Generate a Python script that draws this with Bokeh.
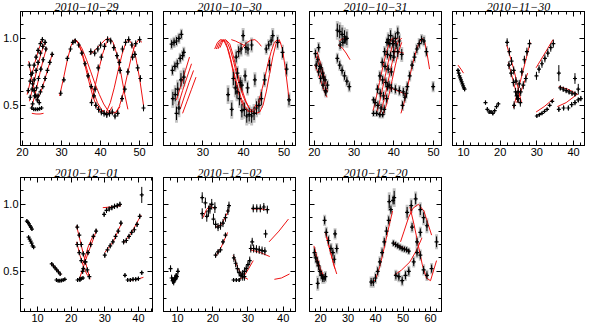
from bokeh.plotting import figure
from bokeh.layouts import row, column
from bokeh.models import Range1d, LinearAxis, FixedTicker, PrintfTickFormatter
from bokeh.embed import file_html
from bokeh.resources import INLINE

TITLES = ["2010\u221210\u221229", "2010\u221210\u221230", "2010\u221210\u221231", "2010\u221211\u221230",
          "2010\u221212\u221201", "2010\u221212\u221202", "2010\u221212\u221220"]
X_RANGES = [(19.5, 53.3), (20.3, 52.8), (18.8, 52.0), (7.0, 43.0), (4.9, 44.2), (6.0, 43.5), (16.0, 64.0)]
X_TICKS = [[20, 30, 40, 50], [30, 40, 50], [20, 30, 40, 50], [10, 20, 30, 40],
           [10, 20, 30, 40], [10, 20, 30, 40], [20, 30, 40, 50, 60]]
Y_TICKS = [0.5, 1.0]

# ---------------- 2010-10-29 ----------------
p1_x = [[21.5, 22.0, 22.5, 23.0, 23.5, 24.0, 24.6, 25.1],
        [22.0, 22.5, 23.0, 23.5, 24.0, 24.6, 25.2, 25.8],
        [22.6, 23.1, 23.6, 24.1, 24.7, 25.3, 26.0],
        [24.0, 24.6, 25.2, 25.8, 26.4, 27.0, 27.6],
        [21.8, 22.2, 22.6, 23.0, 23.4, 23.8, 24.3],
        [22.4, 22.9, 23.4, 23.9, 24.4, 24.9],
        [29.8, 30.6, 31.5, 32.3, 32.9, 33.5, 34.4, 35.2, 36.0, 36.8, 37.6, 38.3],
        [37.7, 38.6, 39.4, 40.2, 41.0, 41.8, 42.6, 43.4, 44.2, 45.0],
        [38.8, 39.5, 40.2, 40.9, 41.6, 42.3, 43.0, 43.7, 44.4],
        [44.8, 45.6, 46.4, 47.2, 48.0, 48.8],
        [45.5, 46.2, 47.0, 48.2, 49.0, 50.0],
        [49.5, 50.2, 51.0],
        [37.5, 38.5, 39.3, 40.0]]
p1_y = [[0.61, 0.68, 0.74, 0.80, 0.86, 0.91, 0.96, 0.99],
        [0.56, 0.62, 0.69, 0.76, 0.82, 0.89, 0.94, 0.97],
        [0.51, 0.57, 0.63, 0.70, 0.77, 0.84, 0.92],
        [0.57, 0.60, 0.64, 0.70, 0.76, 0.82, 0.88],
        [0.80, 0.73, 0.66, 0.61, 0.57, 0.54, 0.52],
        [0.48, 0.47, 0.47, 0.47, 0.475, 0.48],
        [0.59, 0.69, 0.85, 0.92, 0.97, 0.98, 0.95, 0.89, 0.81, 0.72, 0.64, 0.57],
        [0.52, 0.62, 0.78, 0.86, 0.94, 0.99, 0.98, 0.93, 0.87, 0.76],
        [0.50, 0.47, 0.45, 0.44, 0.43, 0.44, 0.45, 0.42, 0.44],
        [0.82, 0.92, 0.97, 0.99, 0.95, 0.88],
        [0.55, 0.62, 0.75, 0.86, 0.96, 0.99],
        [0.78, 0.70, 0.48],
        [0.90, 0.89, 0.92, 0.95]]
p1_e = [0.02, 0.02, 0.02, 0.02, 0.02, 0.01, 0.02, 0.025, 0.025, 0.025, 0.025, 0.025, 0.025]
p1_fit_x = [[21.2, 22.2, 23.2, 24.2, 25.2], [21.8, 22.8, 23.8, 24.8, 25.8], [22.4, 23.4, 24.4, 25.4, 26.2],
            [23.6, 24.6, 25.6, 26.6, 27.7], [22.4, 23.5, 24.5, 25.4], [21.6, 22.4, 23.2, 24.0, 24.6],
            [29.5, 30.5, 31.5, 32.5, 33.3, 34.0, 35.0, 36.0, 37.0, 38.0, 39.0, 40.0, 41.0],
            [33.3, 34.2, 35.2, 36.2, 37.2, 38.2, 39.2, 40.2, 41.2, 42.2, 43.0],
            [33.3, 34.3, 35.3, 36.4, 37.5, 38.6, 39.7, 40.8, 41.9, 43.0, 44.0, 45.0],
            [37.5, 38.5, 39.5, 40.5, 41.5, 42.3, 43.2, 44.2, 45.2, 46.2, 47.0],
            [41.5, 42.5, 43.5, 44.5, 45.5, 46.5, 47.2, 48.0, 49.0, 50.0, 51.0],
            [43.8, 44.8, 45.8, 46.8, 47.8, 48.8, 49.8, 50.6],
            [37.2, 38.2, 39.2, 40.2, 41.2, 42.0]]
p1_fit_y = [[0.58, 0.70, 0.82, 0.92, 0.995], [0.53, 0.65, 0.78, 0.89, 0.97], [0.49, 0.60, 0.73, 0.85, 0.93],
            [0.54, 0.59, 0.68, 0.78, 0.89], [0.44, 0.435, 0.435, 0.44], [0.83, 0.70, 0.60, 0.54, 0.52],
            [0.57, 0.70, 0.84, 0.95, 0.99, 0.98, 0.91, 0.80, 0.68, 0.57, 0.49, 0.45, 0.46],
            [0.99, 0.97, 0.90, 0.80, 0.70, 0.60, 0.52, 0.47, 0.44, 0.45, 0.49],
            [0.99, 0.97, 0.92, 0.84, 0.75, 0.66, 0.58, 0.51, 0.46, 0.44, 0.45, 0.49],
            [0.52, 0.63, 0.76, 0.88, 0.97, 1.0, 0.97, 0.88, 0.74, 0.58, 0.47],
            [0.45, 0.52, 0.63, 0.76, 0.88, 0.97, 0.99, 0.96, 0.86, 0.70, 0.50],
            [0.44, 0.49, 0.59, 0.72, 0.85, 0.95, 0.99, 0.97],
            [0.88, 0.90, 0.93, 0.96, 0.99, 1.0]]

# ---------------- 2010-10-30 ----------------
p2_x = [[22.3, 22.9, 23.5, 24.1, 24.7],
        [22.5, 23.1, 23.7, 24.4, 25.0, 25.3],
        [22.6, 23.2, 23.8, 24.6, 25.3, 23.5, 24.1],
        [36.2, 37.1, 37.5, 38.0, 38.4, 39.0, 39.6, 40.2, 40.8, 41.4, 42.0, 42.6, 43.2, 43.8, 44.4],
        [38.2, 38.8, 39.4, 39.9, 40.6, 41.1, 42.0],
        [38.5, 39.2, 39.6, 40.4, 41.0, 42.8],
        [45.2, 46.4, 47.2, 48.4, 49.6, 50.6, 51.2],
        [45.6, 46.2, 46.8]]
p2_y = [[0.956, 0.97, 0.98, 1.00, 1.03],
        [0.76, 0.79, 0.81, 0.85, 0.87, 0.895],
        [0.55, 0.58, 0.62, 0.69, 0.71, 0.44, 0.48],
        [0.58, 0.47, 0.70, 0.63, 0.60, 0.55, 0.46, 0.47, 0.42, 0.43, 0.42, 0.44, 0.48, 0.50, 0.55],
        [0.86, 0.90, 0.92, 1.02, 0.93, 0.92, 0.95],
        [0.74, 0.67, 0.65, 0.72, 0.63, 0.69],
        [0.69, 0.80, 1.02, 0.97, 0.895, 0.77, 0.54],
        [0.92, 0.95, 0.98]]
p2_e = [0.03, 0.03, 0.05, 0.05, 0.04, 0.04, 0.04, 0.03]
p2_fit_x = [[23.5, 24.6, 25.7, 26.7], [23.9, 25.0, 26.1, 27.2], [24.4, 25.5, 26.6, 27.7], [25.0, 26.1, 27.2, 28.3],
            [32.9, 33.6, 34.3, 35.2, 36.0, 36.8, 37.6, 38.4, 39.2, 40.0, 40.8, 41.6, 42.4, 43.2],
            [33.3, 34.0, 34.7, 35.6, 36.4, 37.2, 38.0, 38.8, 39.6, 40.4, 41.2, 42.0, 42.8, 43.6, 44.4],
            [33.7, 34.4, 35.1, 36.0, 36.8, 37.6, 38.4, 39.2, 40.0, 40.8, 41.6, 42.4, 43.2, 44.0, 44.8,
             45.6, 46.4, 47.2, 48.0, 48.8, 49.6, 50.4, 51.2],
            [34.2, 34.9, 35.6, 36.6, 37.4, 38.2, 39.0, 39.8, 40.6, 41.4, 42.2],
            [37.0, 38.0, 39.0, 40.0, 40.6],
            [38.7, 39.7, 40.7, 41.7, 42.8, 43.6, 44.4],
            [43.6, 44.4, 45.2, 46.0, 46.8, 47.6, 48.4, 49.2]]
p2_fit_y = [[0.54, 0.65, 0.76, 0.86], [0.50, 0.61, 0.71, 0.81], [0.47, 0.57, 0.67, 0.76], [0.44, 0.53, 0.62, 0.71],
            [0.92, 0.97, 0.99, 0.98, 0.93, 0.84, 0.73, 0.63, 0.55, 0.49, 0.46, 0.45, 0.47, 0.51],
            [0.92, 0.97, 0.99, 0.97, 0.90, 0.80, 0.70, 0.61, 0.54, 0.49, 0.46, 0.45, 0.46, 0.50, 0.56],
            [0.92, 0.97, 0.99, 0.97, 0.91, 0.82, 0.72, 0.63, 0.56, 0.51, 0.47, 0.45, 0.44, 0.45, 0.50,
             0.60, 0.73, 0.86, 0.96, 0.99, 0.92, 0.75, 0.55],
            [0.93, 0.98, 0.99, 0.96, 0.88, 0.78, 0.68, 0.60, 0.53, 0.48, 0.45],
            [0.99, 0.98, 0.965, 0.95, 0.94],
            [0.895, 0.93, 0.965, 0.985, 0.99, 0.97, 0.94],
            [0.52, 0.60, 0.70, 0.81, 0.90, 0.97, 0.99, 0.96]]

# ---------------- 2010-10-31 ----------------
p3_x = [[20.3, 20.9, 21.4, 22.1, 22.7, 23.3],
        [20.5, 21.1, 21.6, 22.2, 22.8],
        [21.1, 21.7, 22.3, 22.9],
        [25.8, 26.4, 27.0, 27.6, 28.2],
        [25.8, 26.4, 27.0, 27.6, 28.2, 28.8],
        [26.5, 27.2, 27.8],
        [34.9, 34.9, 35.7, 36.5, 37.2],
        [35.3, 35.9, 36.5, 37.1, 37.7, 38.3],
        [36.0, 36.6, 37.2, 37.8, 38.4, 39.0],
        [36.8, 37.4, 38.0, 38.6, 39.2, 39.8],
        [37.6, 38.2, 38.8, 39.4, 40.0, 40.6],
        [38.6, 39.2, 39.8, 40.4, 41.0, 41.4],
        [38.4, 39.4, 40.4, 41.4, 42.4, 43.2],
        [40.0, 41.0, 42.0],
        [42.2, 42.8, 43.4, 44.0, 44.6, 45.2, 45.8, 46.4, 47.0, 47.6, 48.2, 49.9]]
p3_y = [[0.885, 0.84, 0.79, 0.74, 0.69, 0.65],
        [0.80, 0.75, 0.70, 0.65, 0.61],
        [0.93, 0.78, 0.71, 0.60],
        [1.06, 1.05, 1.03, 1.01, 1.00],
        [0.85, 0.80, 0.76, 0.72, 0.68, 0.64],
        [0.95, 0.97, 0.99],
        [0.54, 0.44, 0.44, 0.43, 0.43],
        [0.52, 0.62, 0.72, 0.82, 0.90, 0.97],
        [0.50, 0.59, 0.69, 0.79, 0.88, 0.96],
        [0.48, 0.57, 0.67, 0.77, 0.87, 0.96],
        [0.47, 0.55, 0.65, 0.75, 0.86, 0.95],
        [0.99, 1.02, 0.98, 1.00, 1.04, 0.98],
        [0.64, 0.63, 0.62, 0.61, 0.60, 0.59],
        [0.90, 0.90, 0.88],
        [0.50, 0.56, 0.64, 0.72, 0.80, 0.86, 0.92, 0.96, 0.99, 0.98, 0.90, 0.64]]
p3_e = [0.03, 0.03, 0.03, 0.05, 0.03, 0.03, 0.02, 0.03, 0.03, 0.03, 0.03, 0.04, 0.03, 0.04, 0.03]
p3_fit_x = [[20.2, 21.0, 21.8, 22.6, 23.2], [20.4, 21.2, 22.0, 22.8, 23.4], [20.7, 21.5, 22.3, 23.0],
            [26.0, 27.0, 28.0, 29.0], [26.3, 27.2, 28.0],
            [34.8, 35.6, 36.4, 37.2, 38.0, 38.8, 39.6, 40.4],
            [35.6, 36.4, 37.2, 38.0, 38.8, 39.6, 40.4, 41.2],
            [36.4, 37.2, 38.0, 38.8, 39.6, 40.4, 41.2, 42.0],
            [37.2, 38.0, 38.8, 39.6, 40.4, 41.2, 42.0],
            [38.4, 40.0, 41.6, 43.2], [39.5, 41.0, 42.5],
            [41.8, 42.6, 43.4, 44.2, 45.0, 45.8, 46.6, 47.2, 47.8, 48.4, 49.0]]
p3_fit_y = [[0.80, 0.74, 0.67, 0.60, 0.56], [0.87, 0.80, 0.72, 0.64, 0.60], [0.90, 0.82, 0.74, 0.66],
            [0.95, 0.93, 0.89, 0.84], [0.98, 1.00, 0.99],
            [0.46, 0.56, 0.67, 0.78, 0.88, 0.96, 1.00, 1.00],
            [0.44, 0.52, 0.63, 0.74, 0.85, 0.94, 0.99, 1.00],
            [0.43, 0.50, 0.60, 0.71, 0.82, 0.92, 0.98, 1.00],
            [0.43, 0.49, 0.58, 0.69, 0.80, 0.90, 0.97],
            [0.64, 0.62, 0.60, 0.58], [0.90, 0.90, 0.89],
            [0.44, 0.52, 0.63, 0.74, 0.84, 0.92, 0.98, 1.00, 0.97, 0.88, 0.77]]

# ---------------- 2010-11-30 ----------------
p4_x = [[8.5, 8.7, 8.9, 9.1, 9.3, 9.5, 9.7, 9.9, 10.1, 10.3],
        [16.0, 16.5, 17.0, 17.5, 18.0, 18.5, 19.0, 19.5],
        [21.9, 22.5, 23.1, 23.7, 24.3, 24.9, 25.5],
        [23.8, 24.5, 25.2, 25.9, 26.6, 27.3, 28.0],
        [22.4, 23.0, 23.6, 24.2, 24.8],
        [24.9, 25.6, 26.3, 27.0],
        [29.9, 30.6, 31.4, 32.2, 33.0, 33.8, 34.5],
        [30.0, 30.7, 31.4, 32.1, 32.8, 33.5, 34.2],
        [36.0],
        [36.0, 37.3, 38.6, 39.5, 40.4, 41.3, 42.0],
        [36.4, 37.2, 38.0, 38.8, 39.6, 40.4],
        [40.4, 41.3]]
p4_y = [[0.76, 0.74, 0.72, 0.705, 0.69, 0.675, 0.66, 0.645, 0.63, 0.62],
        [0.52, 0.47, 0.45, 0.45, 0.44, 0.46, 0.49, 0.51],
        [0.97, 0.90, 0.83, 0.76, 0.68, 0.60, 0.52],
        [0.50, 0.57, 0.66, 0.75, 0.84, 0.90, 0.96],
        [0.80, 0.74, 0.67, 0.60, 0.55],
        [0.55, 0.60, 0.65, 0.70],
        [0.72, 0.77, 0.81, 0.85, 0.89, 0.93, 0.96],
        [0.42, 0.43, 0.44, 0.455, 0.47, 0.50, 0.53],
        [0.74],
        [0.47, 0.48, 0.48, 0.505, 0.52, 0.54, 0.55],
        [0.63, 0.62, 0.61, 0.60, 0.59, 0.585],
        [0.70, 0.62]]
p4_e = [0.015, 0.015, 0.03, 0.03, 0.03, 0.03, 0.03, 0.01, 0.06, 0.02, 0.02, 0.04]
p4_fit_x = [[8.5, 9.3, 10.0], [21.8, 23.8, 25.8], [23.6, 25.8, 28.2], [22.2, 23.6, 25.0], [24.5, 26.0, 27.5],
            [29.8, 32.0, 34.4], [29.8, 32.0, 34.6], [35.6, 38.0, 40.9], [36.0, 38.5, 41.2]]
p4_fit_y = [[0.80, 0.77, 0.74], [0.95, 0.76, 0.52], [0.48, 0.71, 0.97], [0.82, 0.68, 0.52], [0.52, 0.63, 0.74],
            [0.78, 0.88, 0.99], [0.45, 0.49, 0.55], [0.49, 0.52, 0.58], [0.64, 0.62, 0.58]]

# ---------------- 2010-12-01 ----------------
p5_x = [[6.8, 7.1, 7.4, 7.7, 8.0, 8.3],
        [7.3, 7.6, 7.9, 8.2, 8.5, 8.8],
        [14.2, 14.7, 15.2, 15.7, 16.2, 16.7],
        [15.6, 16.1, 16.6, 17.1, 17.6, 18.1],
        [21.8, 22.4, 23.0, 23.6, 24.2, 24.8, 25.4],
        [21.8, 22.4, 23.0, 23.6],
        [22.6, 23.4, 24.2, 25.0, 25.8, 26.6, 27.4],
        [21.9, 22.5, 23.0, 23.5],
        [30.0, 30.8, 31.6, 32.4, 33.2, 34.0, 34.8],
        [29.8, 30.5, 31.3, 32.1, 32.9, 33.7, 34.5],
        [35.6, 36.4, 37.2, 38.0, 38.8, 39.6, 40.4],
        [41.0],
        [36.0, 36.8, 37.6, 38.4, 39.2, 40.0, 41.0]]
p5_y = [[0.875, 0.865, 0.855, 0.84, 0.83, 0.815],
        [0.755, 0.74, 0.725, 0.71, 0.69, 0.68],
        [0.555, 0.54, 0.525, 0.51, 0.495, 0.48],
        [0.435, 0.43, 0.43, 0.432, 0.435, 0.44],
        [0.83, 0.77, 0.70, 0.63, 0.57, 0.51, 0.46],
        [0.70, 0.64, 0.58, 0.52],
        [0.44, 0.50, 0.57, 0.64, 0.70, 0.76, 0.80],
        [0.435, 0.44, 0.445, 0.45],
        [0.62, 0.66, 0.69, 0.72, 0.76, 0.80, 0.86],
        [0.925, 0.955, 0.965, 0.975, 0.985, 0.99, 1.00],
        [0.72, 0.73, 0.76, 0.79, 0.81, 0.85, 0.91],
        [1.07],
        [0.47, 0.435, 0.435, 0.44, 0.44, 0.445, 0.49]]
p5_e = [0.012, 0.012, 0.012, 0.01, 0.02, 0.02, 0.02, 0.01, 0.02, 0.02, 0.02, 0.06, 0.015]
p5_fit_x = [[14.0, 15.5, 17.0], [21.6, 23.6, 25.6], [21.6, 22.6, 23.6, 24.6, 25.6], [22.4, 24.8, 27.6],
            [23.6, 25.0, 26.6], [30.0, 32.5, 35.0], [29.4, 32.0, 34.8], [35.6, 38.0, 40.8], [37.5, 39.5, 41.5]]
p5_fit_y = [[0.56, 0.52, 0.475], [0.84, 0.63, 0.44], [0.72, 0.62, 0.54, 0.48, 0.45], [0.44, 0.62, 0.81],
            [0.56, 0.68, 0.77], [0.64, 0.72, 0.86], [0.975, 0.98, 0.99], [0.71, 0.79, 0.92], [0.435, 0.44, 0.455]]

# ---------------- 2010-12-02 ----------------
p6_x = [[8.0, 8.3, 8.6, 8.9, 9.2, 9.5, 9.8, 10.1],
        [8.7, 9.0, 9.3, 9.6],
        [17.0, 17.0, 17.9, 18.8, 19.7, 20.2, 20.6, 18.3, 19.2],
        [20.8, 21.5, 22.2, 22.9, 23.6, 24.3, 24.6],
        [20.8, 21.5, 22.2, 22.9, 23.6],
        [26.0, 26.5, 27.0, 27.5, 28.0, 28.5, 29.0],
        [28.5, 29.0, 29.5, 30.0, 30.5],
        [25.9, 26.7, 27.5],
        [30.8, 31.6, 32.4, 33.2, 34.0, 34.8, 31.2],
        [31.5, 32.5, 33.5, 34.5, 35.5],
        [35.0]]
p6_y = [[0.52, 0.45, 0.43, 0.42, 0.44, 0.45, 0.46, 0.50],
        [0.44, 0.43, 0.45, 0.47],
        [1.05, 0.93, 1.01, 0.95, 1.00, 0.89, 0.975, 0.91, 0.97],
        [0.85, 0.83, 0.84, 0.86, 0.90, 0.95, 0.99],
        [0.62, 0.645, 0.66, 0.72, 0.77],
        [0.60, 0.56, 0.52, 0.49, 0.47, 0.46, 0.46],
        [0.48, 0.50, 0.52, 0.55, 0.58],
        [0.435, 0.435, 0.435],
        [0.67, 0.67, 0.665, 0.66, 0.655, 0.65, 0.72],
        [0.97, 0.97, 0.97, 0.98, 0.96],
        [0.78]]
p6_e = [0.025, 0.015, 0.04, 0.03, 0.02, 0.03, 0.03, 0.015, 0.03, 0.03, 0.03]
p6_fit_x = [[17.2, 18.2, 19.2, 20.2], [20.8, 22.5, 24.6], [20.8, 22.4, 24.2], [25.8, 27.2, 28.6, 30.0],
            [27.5, 28.8, 30.2, 31.5], [30.8, 33.5, 36.2], [31.0, 33.5, 35.8], [36.0, 38.8, 41.5], [37.5, 39.5, 41.8]]
p6_fit_y = [[0.90, 0.96, 0.99, 0.97], [0.83, 0.85, 0.96], [0.61, 0.68, 0.79], [0.62, 0.52, 0.46, 0.44],
            [0.44, 0.46, 0.52, 0.58], [0.66, 0.64, 0.61], [0.965, 0.965, 0.96], [0.72, 0.80, 0.89], [0.44, 0.45, 0.48]]

# ---------------- 2010-12-20 ----------------
p7_x = [[17.8, 18.3, 18.8, 19.3, 19.8, 20.3, 20.8, 21.3, 21.8],
        [19.0],
        [21.5, 22.1, 22.9, 23.8, 24.5, 25.0, 25.3, 25.9],
        [38.4, 39.2, 40.0, 40.8, 41.6, 42.4, 43.2, 44.0, 44.8, 45.6, 46.4],
        [45.0, 46.8],
        [51.5, 53.0, 54.6, 56.3, 57.5, 58.7, 62.2],
        [46.5, 47.3, 48.1, 48.9, 49.7, 50.5, 51.3, 52.1],
        [47.4, 48.5, 49.7, 50.9, 52.1, 53.9, 55.1, 56.3],
        [53.3, 55.1, 56.3, 57.5, 58.7, 60.4]]
p7_y = [[0.64, 0.60, 0.57, 0.54, 0.50, 0.47, 0.45, 0.45, 0.46],
        [0.41],
        [0.88, 0.79, 0.73, 0.67, 0.64, 0.59, 0.78, 0.67],
        [0.42, 0.42, 0.45, 0.50, 0.57, 0.64, 0.72, 0.80, 0.88, 0.96, 1.03],
        [1.02, 1.05],
        [0.94, 0.99, 1.04, 0.96, 0.90, 0.84, 0.72],
        [0.71, 0.70, 0.69, 0.68, 0.67, 0.665, 0.66, 0.65],
        [0.47, 0.46, 0.43, 0.47, 0.50, 0.57, 0.64, 0.79],
        [0.83, 0.72, 0.62, 0.51, 0.47, 0.52]]
p7_e = [0.03, 0.04, 0.03, 0.03, 0.05, 0.04, 0.02, 0.03, 0.03]
p7_fit_x = [[17.6, 18.8, 20.0, 21.2], [17.8, 19.0, 20.2], [21.8, 23.4, 25.0, 25.9], [22.2, 23.8, 25.2],
            [38.6, 40.0, 41.5, 43.0, 44.5, 46.2], [49.1, 50.4, 52.0, 53.6, 55.6, 57.6, 59.0, 60.4],
            [46.5, 49.5, 52.5], [46.8, 49.5, 52.5, 55.0, 56.9],
            [52.5, 54.0, 55.5, 57.0, 58.5, 60.0, 62.2]]
p7_fit_y = [[0.69, 0.60, 0.52, 0.46], [0.63, 0.55, 0.47], [0.79, 0.66, 0.54, 0.48], [0.76, 0.63, 0.52],
            [0.41, 0.44, 0.53, 0.66, 0.80, 0.95], [0.72, 0.80, 0.90, 0.97, 1.00, 0.95, 0.86, 0.77],
            [0.71, 0.68, 0.645], [0.47, 0.51, 0.57, 0.66, 0.75],
            [0.98, 0.85, 0.70, 0.55, 0.45, 0.43, 0.58]]

PANELS = [
    (p1_x, p1_y, p1_e, p1_fit_x, p1_fit_y),
    (p2_x, p2_y, p2_e, p2_fit_x, p2_fit_y),
    (p3_x, p3_y, p3_e, p3_fit_x, p3_fit_y),
    (p4_x, p4_y, p4_e, p4_fit_x, p4_fit_y),
    (p5_x, p5_y, p5_e, p5_fit_x, p5_fit_y),
    (p6_x, p6_y, p6_e, p6_fit_x, p6_fit_y),
    (p7_x, p7_y, p7_e, p7_fit_x, p7_fit_y),
]
GRAY = [False, True, True, False, False, False, True]

FRAME_W = 132
FRAME_H = 134
LEFT_BORDER = [18, 10, 13, 10, 18, 10, 13]

X_MINOR = list(range(0, 70, 2))
Y_MINOR = [round(0.2 + 0.1 * k, 2) for k in range(11)]


def style_axis(ax, labels):
    ax.axis_line_color = "black"
    ax.axis_line_width = 1
    ax.major_tick_in = 5
    ax.major_tick_out = 0
    ax.minor_tick_in = 3
    ax.minor_tick_out = 0
    ax.major_tick_line_color = "black"
    ax.minor_tick_line_color = "black"
    ax.major_label_text_font = "Liberation Sans"
    ax.major_label_text_font_size = "11px"
    if labels:
        ax.major_label_text_color = "black"
        ax.major_label_standoff = 2
    else:
        ax.major_label_text_color = None
        ax.major_label_standoff = 0


def make_panel(i):
    xs, ys, es, fx, fy = PANELS[i]
    first_col = i in (0, 4)
    p = figure(frame_width=FRAME_W, frame_height=FRAME_H,
               x_range=Range1d(*X_RANGES[i]), y_range=Range1d(0.2, 1.2),
               output_backend="svg", toolbar_location=None,
               x_axis_location=None, y_axis_location=None,
               min_border_left=LEFT_BORDER[i], min_border_right=1,
               min_border_top=0, min_border_bottom=0,
               title=TITLES[i])
    p.grid.visible = False
    p.outline_line_color = "black"
    p.background_fill_color = "white"
    p.border_fill_color = "white"
    p.title.align = "center"
    p.title.text_font = "Liberation Serif"
    p.title.text_font_style = "italic"
    p.title.text_font_size = "12px"
    p.title.text_color = "#000000"
    p.title.standoff = 1
    p.title.offset = 0

    xt = FixedTicker(ticks=X_TICKS[i], minor_ticks=X_MINOR)
    yt = FixedTicker(ticks=Y_TICKS, minor_ticks=Y_MINOR)
    bx = LinearAxis(ticker=xt)
    style_axis(bx, True)
    p.add_layout(bx, "below")
    tx = LinearAxis(ticker=xt)
    style_axis(tx, False)
    p.add_layout(tx, "above")
    ly = LinearAxis(ticker=yt, formatter=PrintfTickFormatter(format="%.1f"))
    style_axis(ly, first_col)
    p.add_layout(ly, "left")
    ry = LinearAxis(ticker=yt)
    style_axis(ry, False)
    p.add_layout(ry, "right")

    px, py, pe = [], [], []
    for gx, gy, ge in zip(xs, ys, es):
        for a, b in zip(gx, gy):
            px.append(a)
            py.append(b)
            pe.append(ge)
    lo = [b - e for b, e in zip(py, pe)]
    hi = [b + e for b, e in zip(py, pe)]
    if GRAY[i]:
        glo = [b - 1.4 * e for b, e in zip(py, pe)]
        ghi = [b + 1.4 * e for b, e in zip(py, pe)]
        p.segment(x0=px, y0=glo, x1=px, y1=ghi, line_color="#c4c4c4", line_width=3)
    p.multi_line(xs=fx, ys=fy, line_color="#ee1111", line_width=1)
    p.segment(x0=px, y0=lo, x1=px, y1=hi, line_color="black", line_width=1)
    p.scatter(px, py, marker="cross", size=4, line_color="black", line_width=1.2)
    return p


figs = [make_panel(i) for i in range(7)]
layout = column(row(*figs[:4]), row(*figs[4:]), spacing=8)

open("out.html", "w").write(file_html(layout, INLINE))
